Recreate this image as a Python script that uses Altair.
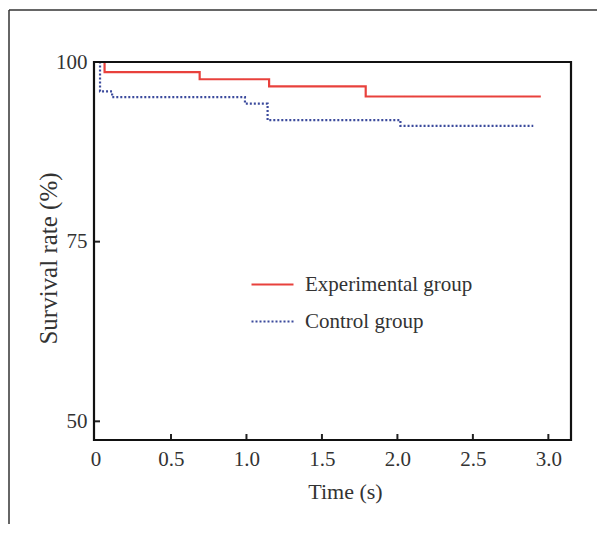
import altair as alt
import pandas as pd

# Experimental group (Kaplan-Meier style step curve)
exp_time = [0.0, 0.06, 0.69, 1.15, 1.79, 2.95]
exp_surv = [100.0, 98.6, 97.6, 96.6, 95.2, 95.2]

# Control group
ctl_time = [0.0, 0.03, 0.11, 0.99, 1.14, 2.02, 2.90]
ctl_surv = [100.0, 95.9, 95.1, 94.2, 91.9, 91.1, 91.1]

groups = ["Experimental group", "Control group"]
x_ticks = [0.0, 0.5, 1.0, 1.5, 2.0, 2.5, 3.0]
y_ticks = [50, 75, 100]

rows = []
for t, s in zip(exp_time, exp_surv):
    rows.append({"time": t, "surv": s, "group": groups[0]})
for t, s in zip(ctl_time, ctl_surv):
    rows.append({"time": t, "surv": s, "group": groups[1]})
df = pd.DataFrame(rows)

W, H = 477, 378
FONT = "Liberation Serif"

xscale = alt.Scale(domain=[-0.01, 3.15], nice=False, zero=False)
yscale = alt.Scale(domain=[47.4, 100], nice=False, zero=False)

leg = dict(title=None, orient="none", legendX=156, legendY=200,
           symbolType="stroke", symbolSize=1764, symbolStrokeWidth=2.2,
           labelFontSize=21, labelColor="#333", labelOffset=10, labelLimit=400,
           rowPadding=4, labelFont=FONT)

lines = alt.Chart(df).mark_line(interpolate="step-after", strokeWidth=2.2).encode(
    x=alt.X("time:Q", scale=xscale,
            axis=alt.Axis(values=x_ticks, title="Time (s)", ticks=False, domain=False, grid=False,
                          labelExpr="datum.value == 0 ? '0' : format(datum.value, '.1f')",
                          labelFontSize=21, labelPadding=8, labelColor="#333",
                          titleFontSize=22, titleFontWeight="normal", titleColor="#333",
                          titleX=251, titleY=58, titleBaseline="alphabetic", titleAlign="center")),
    y=alt.Y("surv:Q", scale=yscale,
            axis=alt.Axis(values=y_ticks, title="Survival rate (%)", ticks=False, domain=False, grid=False,
                          labelFontSize=21, labelPadding=7, labelColor="#333",
                          titleFontSize=25, titleFontWeight="normal", titleColor="#333",
                          titleX=-46, titleY=196, titleBaseline="middle", titleAlign="center", titleAngle=270)),
    color=alt.Color("group:N", scale=alt.Scale(domain=groups, range=["#e8413c", "#3b4a9c"]),
                    legend=alt.Legend(**leg)),
    strokeDash=alt.StrokeDash("group:N", scale=alt.Scale(domain=groups, range=[[1, 0], [2, 2]]),
                              legend=alt.Legend(**leg)),
    order="time:Q",
)

xt = pd.DataFrame({"t": x_ticks[1:]})
x_tick_marks = alt.Chart(xt).mark_rule(color="#222", strokeWidth=2).encode(
    x=alt.X("t:Q", scale=xscale), y=alt.value(H), y2=alt.value(H - 6))

yt = pd.DataFrame({"v": y_ticks})
y_tick_marks = alt.Chart(yt).mark_rule(color="#222", strokeWidth=2).encode(
    y=alt.Y("v:Q", scale=yscale), x=alt.value(0), x2=alt.value(6))

one = pd.DataFrame({"a": [0]})
# plot border
border = alt.Chart(one).mark_rect(fill=None, stroke="#111", strokeWidth=2.2).encode(
    x=alt.value(0), x2=alt.value(W), y=alt.value(0), y2=alt.value(H))

# decorative outer frame of the figure
frame_top = alt.Chart(one).mark_rule(color="#333", strokeWidth=1.5).encode(
    x=alt.value(-85), x2=alt.value(W + 30), y=alt.value(-52))
frame_left = alt.Chart(one).mark_rule(color="#333", strokeWidth=1.5).encode(
    x=alt.value(-85), y=alt.value(-52), y2=alt.value(H + 90))

chart = alt.layer(frame_top, frame_left, lines, x_tick_marks, y_tick_marks, border).properties(
    width=W, height=H,
    padding={"left": 86, "top": 54, "right": 26, "bottom": 84},
    autosize=alt.AutoSizeParams(type="none"),
    background="white",
).configure_view(stroke=None).configure(font=FONT)

chart.save("out.html", embed_options={"renderer": "svg", "actions": False})
